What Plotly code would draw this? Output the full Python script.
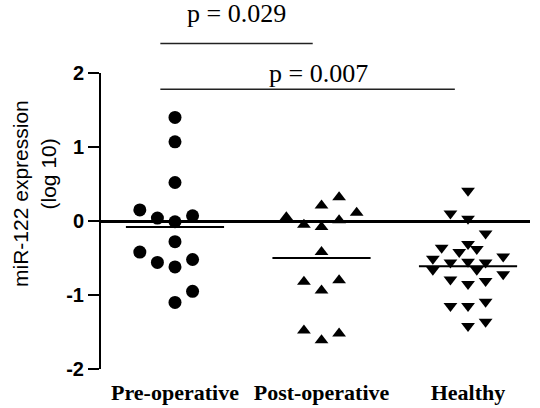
import plotly.graph_objects as go

# ---- data ----
groups = ["Pre-operative", "Post-operative", "Healthy"]

pre_values = [1.40, 1.07, 0.52, 0.15, 0.04, -0.01, 0.07, -0.28, -0.42, -0.56, -0.62, -0.52, -0.95, -1.10]
pre_slots = [0, 0, 0, -2, -1, 0, 1, 0, -2, -1, 0, 1, 1, 0]

post_values = [0.32, 0.21, 0.05, 0.11, 0.01, -0.05, -0.08, -0.42, -0.82, -0.80, -0.94, -1.48, -1.52, -1.61]
post_slots = [1, 0, -2, 2, 1, -1, 0, 0, -1, 1, 0, -1, 1, 0]

healthy_values = [0.41, 0.10, 0.03, -0.17, -0.36, -0.31, -0.42, -0.38, -0.51, -0.48,
                  -0.56, -0.55, -0.56, -0.66, -0.66, -0.72, -0.79, -0.85, -0.81,
                  -1.15, -1.15, -1.09, -1.42, -1.36]
healthy_slots = [0, -1, 0, 1, -1.5, 0, -0.5, 0.5, -2, 2,
                 -1, 0, 1, -2, 0.5, 2, -1, 0, 1,
                 -1, 0, 1, 0, 1]

group_means = [-0.08, -0.50, -0.61]

p_labels = ["p = 0.029", "p = 0.007"]
p_pairs = [(0, 1), (0, 2)]
p_line_levels = [2.40, 1.78]
p_text_levels = [2.80, 2.0]

y_ticks = [-2, -1, 0, 1, 2]
Y_MIN, Y_MAX = -2, 2

# ---- styling constants ----
SLOT = 0.12          # horizontal spacing of scatter columns (x units)
HALF = 0.335         # half width of mean line
symbols = ["circle", "triangle-up", "triangle-down"]
sizes = [13, 12, 12]


def to_paper(v):
    return (v - Y_MIN) / (Y_MAX - Y_MIN)


fig = go.Figure()
series = [(pre_values, pre_slots), (post_values, post_slots), (healthy_values, healthy_slots)]
for gi, (vals, slots) in enumerate(series):
    fig.add_trace(go.Scatter(
        x=[gi + s * SLOT for s in slots],
        y=vals,
        mode="markers",
        marker=dict(symbol=symbols[gi], size=sizes[gi], color="black", line=dict(width=0)),
        cliponaxis=False,
        showlegend=False,
        name=groups[gi],
    ))

shapes = []
for gi, m in enumerate(group_means):
    shapes.append(dict(type="line", xref="x", yref="y", x0=gi - HALF, x1=gi + HALF,
                       y0=m, y1=m, line=dict(color="black", width=2)))

annotations = []
offsets_start = [-0.10, -0.10]
offsets_end = [-0.06, -0.09]
text_x = [0.42, 0.98]
for k, (a, b) in enumerate(p_pairs):
    yp = to_paper(p_line_levels[k])
    shapes.append(dict(type="line", xref="x", yref="paper",
                       x0=a + offsets_start[k], x1=b + offsets_end[k],
                       y0=yp, y1=yp, line=dict(color="#222222", width=1.5)))
    annotations.append(dict(x=text_x[k], y=to_paper(p_text_levels[k]), xref="x", yref="paper",
                            text=p_labels[k], showarrow=False, xanchor="center", yanchor="middle",
                            font=dict(family="Liberation Serif", size=26, color="black")))

# y-axis title (two lines, separately positioned)
annotations.append(dict(x=-0.186, y=0.592, xref="paper", yref="paper", text="miR-122 expression",
                        textangle=-90, showarrow=False, xanchor="center", yanchor="middle",
                        font=dict(family="Liberation Sans", size=21, color="black")))
annotations.append(dict(x=-0.123, y=0.658, xref="paper", yref="paper", text="(log 10)",
                        textangle=-90, showarrow=False, xanchor="center", yanchor="middle",
                        font=dict(family="Liberation Sans", size=21, color="black")))

fig.update_layout(
    width=540, height=408, autosize=False,
    margin=dict(l=101, r=10, t=73, b=39, pad=0, autoexpand=False),
    paper_bgcolor="white", plot_bgcolor="white",
    shapes=shapes, annotations=annotations,
    xaxis=dict(range=[-0.505, 2.423], tickvals=[0, 1, 2], ticktext=groups,
               showline=False, showgrid=False, zeroline=False, ticks="",
               ticklabelstandoff=8, automargin=False,
               tickfont=dict(family="Liberation Serif", size=22, color="black", weight="bold")),
    yaxis=dict(range=[Y_MIN, Y_MAX], tickvals=y_ticks, ticktext=[str(t) for t in y_ticks],
               showline=True, linecolor="black", linewidth=2, automargin=False,
               ticks="outside", ticklen=11, tickwidth=2, tickcolor="black",
               showgrid=False, zeroline=True, zerolinecolor="black", zerolinewidth=2.5,
               tickfont=dict(family="Liberation Sans", size=20, color="black", weight="bold")),
)

fig.write_html("out.html")
